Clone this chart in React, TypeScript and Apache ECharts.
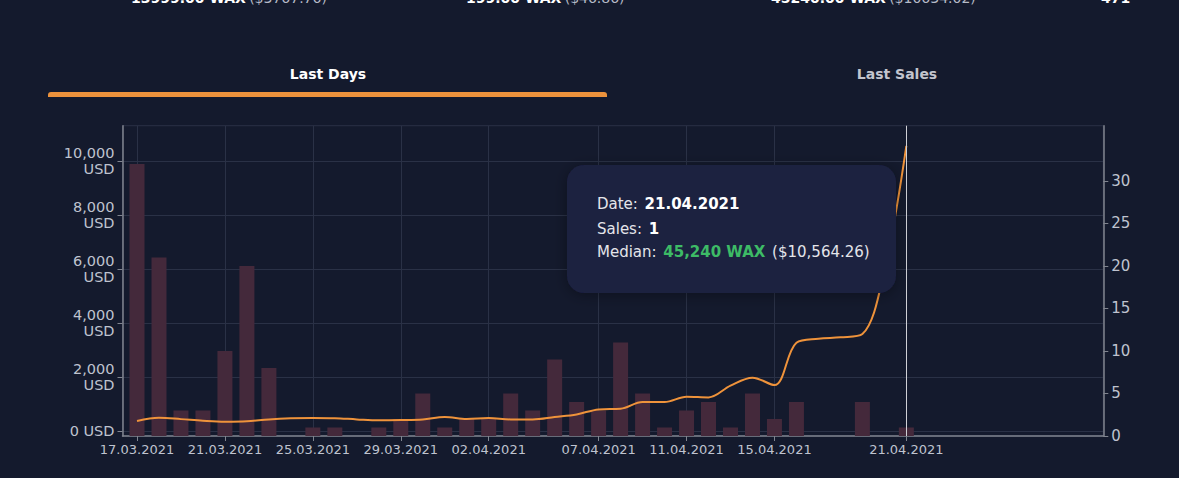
import React, { useEffect, useRef } from "react";
import * as echarts from "echarts";

const dates = [
  "17.03.2021", "18.03.2021", "19.03.2021", "20.03.2021", "21.03.2021", "22.03.2021",
  "23.03.2021", "24.03.2021", "25.03.2021", "26.03.2021", "27.03.2021", "28.03.2021",
  "29.03.2021", "30.03.2021", "31.03.2021", "01.04.2021", "02.04.2021", "03.04.2021",
  "04.04.2021", "05.04.2021", "06.04.2021", "07.04.2021", "08.04.2021", "09.04.2021",
  "10.04.2021", "11.04.2021", "12.04.2021", "13.04.2021", "14.04.2021", "15.04.2021",
  "16.04.2021", "17.04.2021", "18.04.2021", "19.04.2021", "20.04.2021", "21.04.2021",
];

const sales = [
  32, 21, 3, 3, 10, 20, 8, 0, 1, 1, 0, 1, 2, 5, 1, 2, 2, 5, 3, 9, 4, 3, 11, 5, 1, 3, 4, 1, 5, 2, 4, 0, 0, 4, 0, 1,
];

const medianUsd = [
  370, 490, 440, 380, 345, 360, 430, 470, 485, 475, 430, 395, 405, 430, 520, 445, 480, 430,
  430, 520, 615, 800, 825, 1075, 1075, 1270, 1245, 1680, 1975, 1700, 3270, 3420, 3470, 3590, 5950, 10564.26,
];

const xLabelIdx = [0, 4, 8, 12, 16, 21, 25, 29, 35];
const usdTicks = [0, 2000, 4000, 6000, 8000, 10000];
const salesTicks = [0, 5, 10, 15, 20, 25, 30];

const FONT = "DejaVu Sans";
const BG = "#141a2d";
const GRID = "#2a3146";
const AXIS = "#80848f";
const LABEL = "#bfc3cf";

export default function App() {
  const ref = useRef<HTMLDivElement>(null);
  useEffect(() => {
    document.body.style.margin = "0";
    document.body.style.background = BG;
    const chart = echarts.init(ref.current!, null, { renderer: "svg" });
    const option: any = {
      animation: false,
      backgroundColor: BG,
      textStyle: { fontFamily: FONT },
      grid: {
        left: 122.5,
        right: 75.7,
        top: 125.7,
        bottom: 42,
        show: true,
        borderColor: GRID,
        borderWidth: 1,
        backgroundColor: "transparent",
      },
      xAxis: {
        type: "value",
        min: -0.66,
        max: 43.96,
        axisLine: { show: true, onZero: false, lineStyle: { color: AXIS, width: 1.5 } },
        axisTick: { show: true, length: 5, lineStyle: { color: AXIS }, customValues: xLabelIdx },
        axisLabel: {
          customValues: xLabelIdx,
          color: LABEL,
          fontFamily: FONT,
          fontSize: 13,
          margin: 7,
          formatter: (v: number) => dates[Math.round(v)] || "",
        },
        splitLine: { show: true, lineStyle: { color: GRID, width: 1 } },
      },
      yAxis: [
        {
          type: "value",
          position: "left",
          min: -185,
          max: 11308,
          axisLine: { show: true, onZero: false, lineStyle: { color: AXIS, width: 1.5 } },
          axisTick: { show: true, length: 5, lineStyle: { color: AXIS }, customValues: usdTicks },
          axisLabel: {
            customValues: usdTicks,
            color: LABEL,
            fontFamily: FONT,
            fontSize: 14.5,
            lineHeight: 16,
            margin: 8,
            align: "right",
            formatter: (v: number) => (v === 0 ? "0 USD" : v.toLocaleString("en-US") + "\nUSD"),
          },
          splitLine: { show: true, lineStyle: { color: GRID, width: 1 } },
        },
        {
          type: "value",
          position: "right",
          min: 0,
          max: 36.5,
          axisLine: { show: true, onZero: false, lineStyle: { color: AXIS, width: 1.5 } },
          axisTick: { show: true, length: 5, lineStyle: { color: AXIS }, customValues: salesTicks },
          axisLabel: {
            customValues: salesTicks,
            color: LABEL,
            fontFamily: FONT,
            fontSize: 15,
            margin: 8,
          },
          splitLine: { show: false },
        },
      ],
      series: [
        {
          type: "bar",
          name: "Sales",
          yAxisIndex: 1,
          barWidth: 15,
          itemStyle: { color: "#44293b" },
          data: sales.map((s, i) => [i, s]),
          z: 2,
        },
        {
          type: "line",
          name: "Median",
          yAxisIndex: 0,
          smooth: 0.35,
          showSymbol: false,
          symbol: "none",
          lineStyle: { color: "#ef933b", width: 2 },
          data: medianUsd.map((m, i) => [i, m]),
          z: 3,
          markLine: {
            silent: true,
            symbol: ["none", "none"],
            label: { show: false },
            lineStyle: { color: "#cfd0d6", width: 1, type: "solid" },
            data: [{ xAxis: 35 }],
          },
        },
      ],
      graphic: [
        {
          type: "text",
          z: 100,
          left: 131,
          top: -9,
          style: {
            text: "{b|13999.00 WAX} {g|($3767.76)}",
            rich: {
              b: { fontFamily: FONT, fontSize: 14, fontWeight: "bold", fill: "#ffffff" },
              g: { fontFamily: FONT, fontSize: 14, fill: "#b6bac7" },
            },
          },
        },
        {
          type: "text",
          z: 100,
          left: 466,
          top: -9,
          style: {
            text: "{b|199.00 WAX} {g|($46.86)}",
            rich: {
              b: { fontFamily: FONT, fontSize: 14, fontWeight: "bold", fill: "#ffffff" },
              g: { fontFamily: FONT, fontSize: 14, fill: "#b6bac7" },
            },
          },
        },
        {
          type: "text",
          z: 100,
          left: 771,
          top: -9,
          style: {
            text: "{b|45240.00 WAX} {g|($10634.02)}",
            rich: {
              b: { fontFamily: FONT, fontSize: 14, fontWeight: "bold", fill: "#ffffff" },
              g: { fontFamily: FONT, fontSize: 14, fill: "#b6bac7" },
            },
          },
        },
        {
          type: "text",
          z: 100,
          left: 1101,
          top: -9,
          style: { text: "471", fontFamily: FONT, fontSize: 14, fontWeight: "bold", fill: "#ffffff" },
        },
        {
          type: "text",
          z: 100,
          x: 328,
          y: 74,
          style: {
            text: "Last Days",
            fontFamily: FONT,
            fontSize: 14,
            fontWeight: "bold",
            fill: "#ffffff",
            align: "center",
            verticalAlign: "middle",
          },
        },
        {
          type: "text",
          z: 100,
          x: 897,
          y: 74,
          style: {
            text: "Last Sales",
            fontFamily: FONT,
            fontSize: 14,
            fontWeight: "bold",
            fill: "#c3c5ce",
            align: "center",
            verticalAlign: "middle",
          },
        },
        {
          type: "rect",
          z: 100,
          shape: { x: 48, y: 92, width: 559, height: 5, r: [3, 3, 0, 0] },
          style: { fill: "#ec923c" },
        },
        {
          type: "group",
          z: 100,
          children: [
            {
              type: "rect",
              z: 100,
              shape: { x: 567, y: 165, width: 329, height: 128, r: 17 },
              style: {
                fill: "#1c2040",
                shadowBlur: 14,
                shadowColor: "rgba(0,0,0,0.35)",
                shadowOffsetY: 2,
              },
            },
            {
              type: "text",
              z: 101,
              x: 597,
              y: 204,
              style: {
                text: "{l|Date:}  {v|21.04.2021}",
                verticalAlign: "middle",
                rich: {
                  l: { fontFamily: FONT, fontSize: 15, fill: "#e4e5ea" },
                  v: { fontFamily: FONT, fontSize: 15, fontWeight: "bold", fill: "#ffffff" },
                },
              },
            },
            {
              type: "text",
              z: 101,
              x: 597,
              y: 229,
              style: {
                text: "{l|Sales:}  {v|1}",
                verticalAlign: "middle",
                rich: {
                  l: { fontFamily: FONT, fontSize: 15, fill: "#e4e5ea" },
                  v: { fontFamily: FONT, fontSize: 15, fontWeight: "bold", fill: "#ffffff" },
                },
              },
            },
            {
              type: "text",
              z: 101,
              x: 597,
              y: 252,
              style: {
                text: "{l|Median:}  {g|45,240 WAX}  {l|($10,564.26)}",
                verticalAlign: "middle",
                rich: {
                  l: { fontFamily: FONT, fontSize: 15, fill: "#e4e5ea" },
                  g: { fontFamily: FONT, fontSize: 15, fontWeight: "bold", fill: "#3dbb66" },
                },
              },
            },
          ],
        },
      ],
    };
    chart.setOption(option);
    return () => chart.dispose();
  }, []);
  return (
    <div
      ref={ref}
      style={{ position: "fixed", left: 0, top: 0, width: 1179, height: 478, background: BG }}
    />
  );
}
